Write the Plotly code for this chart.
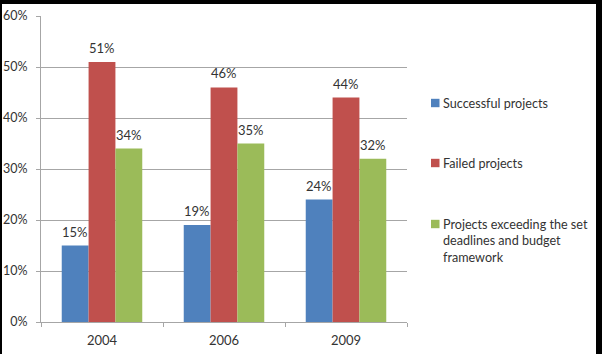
import plotly.graph_objects as go

years = ["2004", "2006", "2009"]
series_names = ["Successful projects", "Failed projects",
                "Projects exceeding the set<br>deadlines and budget<br>framework"]
successful = [15, 19, 24]
failed = [51, 46, 44]
exceeding = [34, 35, 32]
colors = ["#4F81BD", "#C0504D", "#9BBB59"]
y_ticks = [0, 10, 20, 30, 40, 50, 60]

all_values = [successful, failed, exceeding]
FONT = "Lato"
TXT = "#333333"
GRID = "#a6a6a6"

fig = go.Figure()
for name, vals, c in zip(series_names, all_values, colors):
    fig.add_trace(go.Bar(x=years, y=vals, name=name, marker_color=c,
                         marker_line_width=0, showlegend=False))

bargap = 0.34
bw = (1 - bargap) / 3
annotations = []
for j, vals in enumerate(all_values):
    for i, v in enumerate(vals):
        annotations.append(dict(x=i + (j - 1) * bw, y=v, xref="x", yref="y",
                                text=f"{v}%", showarrow=False, yshift=14,
                                font=dict(family=FONT, size=13, color=TXT)))

# custom legend (paper coords: plot area x 41..407 px, y 16..322 px)
def px_x(p):
    return (p - 41) / 366.0

def px_y(p):
    return (322 - p) / 306.0

shapes = [dict(type="rect", xref="paper", yref="paper", layer="below",
               x0=px_x(2), x1=px_x(596), y0=-0.2, y1=px_y(4),
               fillcolor="white", line_width=0)]
leg_y = [103, 163, 224]
for name, c, yy in zip(series_names, colors, leg_y):
    shapes.append(dict(type="rect", xref="paper", yref="paper",
                       x0=px_x(431), x1=px_x(439.5), y0=px_y(yy + 4.2), y1=px_y(yy - 4.2),
                       fillcolor=c, line_width=0))
    annotations.append(dict(x=px_x(441), y=px_y(yy - 9), xref="paper", yref="paper",
                            xanchor="left", yanchor="top", align="left",
                            text=name, showarrow=False,
                            font=dict(family=FONT, size=12.6, color=TXT)))

fig.update_layout(
    width=602, height=354,
    margin=dict(l=41, r=195, t=16, b=32),
    paper_bgcolor="black", plot_bgcolor="white",
    barmode="group", bargap=bargap, bargroupgap=0,
    showlegend=False,
    font=dict(family=FONT, size=13, color=TXT),
    annotations=annotations, shapes=shapes,
    xaxis=dict(type="category", showline=True, linecolor=GRID, linewidth=1,
               ticks="outside", tickson="boundaries", ticklen=4, tickcolor=GRID,
               showgrid=False, ticklabelstandoff=6, automargin=False,
               tickfont=dict(family=FONT, size=13, color=TXT)),
    yaxis=dict(range=[0, 60], tickvals=y_ticks,
               ticktext=[f"{t}%" for t in y_ticks],
               showline=True, linecolor=GRID, linewidth=1,
               ticks="outside", ticklen=4, tickcolor=GRID,
               showgrid=True, gridcolor=GRID, gridwidth=1, zeroline=False,
               ticklabelstandoff=6, automargin=False,
               tickfont=dict(family=FONT, size=12.5, color=TXT)),
)

fig.write_html("out.html")
